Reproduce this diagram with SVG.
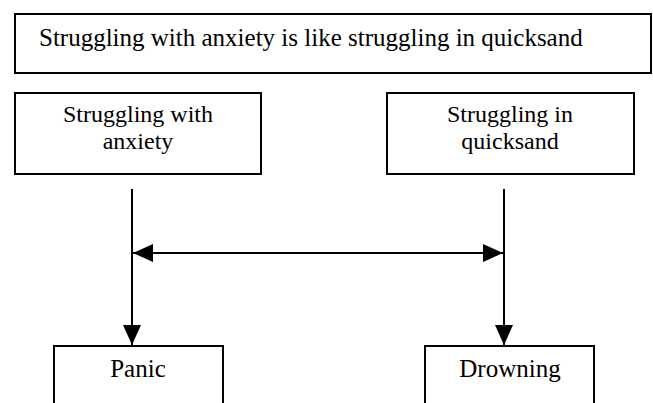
<svg xmlns="http://www.w3.org/2000/svg" width="653" height="403" viewBox="0 0 653 403">
  <style>
    .box { fill: #ffffff; stroke: #000000; stroke-width: 2; }
    .lbl { font-family: "Liberation Serif", "Times New Roman", "DejaVu Serif", serif; font-size: 25px; fill: #000000; }
    .two { font-size: 24px; }
    .mid { text-anchor: middle; }
    .conn { stroke: #000000; stroke-width: 2; fill: none; }
  </style>
  <defs>
    <marker id="arrow" viewBox="0 0 20 18" refX="20" refY="9" markerWidth="20" markerHeight="18" markerUnits="userSpaceOnUse" orient="auto-start-reverse">
      <path d="M0,0 L20,9 L0,18 z" fill="#000000"/>
    </marker>
  </defs>
  <rect width="653" height="403" fill="#ffffff"/>

  <g id="title">
    <rect class="box" x="15" y="14" width="636" height="59"/>
    <text class="lbl" font-family="Liberation Serif, serif" x="39" y="46">Struggling with anxiety is like struggling in quicksand</text>
  </g>

  <g id="anxiety">
    <rect class="box" x="15" y="93" width="246" height="81"/>
    <text class="lbl two mid" font-family="Liberation Serif, serif" x="138" y="122">Struggling with</text>
    <text class="lbl two mid" font-family="Liberation Serif, serif" x="138" y="149">anxiety</text>
  </g>

  <g id="quicksand">
    <rect class="box" x="387" y="93" width="247" height="81"/>
    <text class="lbl two mid" font-family="Liberation Serif, serif" x="510" y="122">Struggling in</text>
    <text class="lbl two mid" font-family="Liberation Serif, serif" x="510" y="149">quicksand</text>
  </g>

  <g id="panic">
    <rect class="box" x="54" y="346" width="169" height="70"/>
    <text class="lbl mid" font-family="Liberation Serif, serif" x="138" y="377">Panic</text>
  </g>

  <g id="drowning">
    <rect class="box" x="425" y="346" width="169" height="70"/>
    <text class="lbl mid" font-family="Liberation Serif, serif" x="510" y="377">Drowning</text>
  </g>

  <g id="connectors">
    <line class="conn" x1="132" y1="189" x2="132" y2="345" marker-end="url(#arrow)"/>
    <line class="conn" x1="504" y1="189" x2="504" y2="345" marker-end="url(#arrow)"/>
    <line class="conn" x1="133" y1="253" x2="503" y2="253" marker-start="url(#arrow)" marker-end="url(#arrow)"/>
  </g>
</svg>
